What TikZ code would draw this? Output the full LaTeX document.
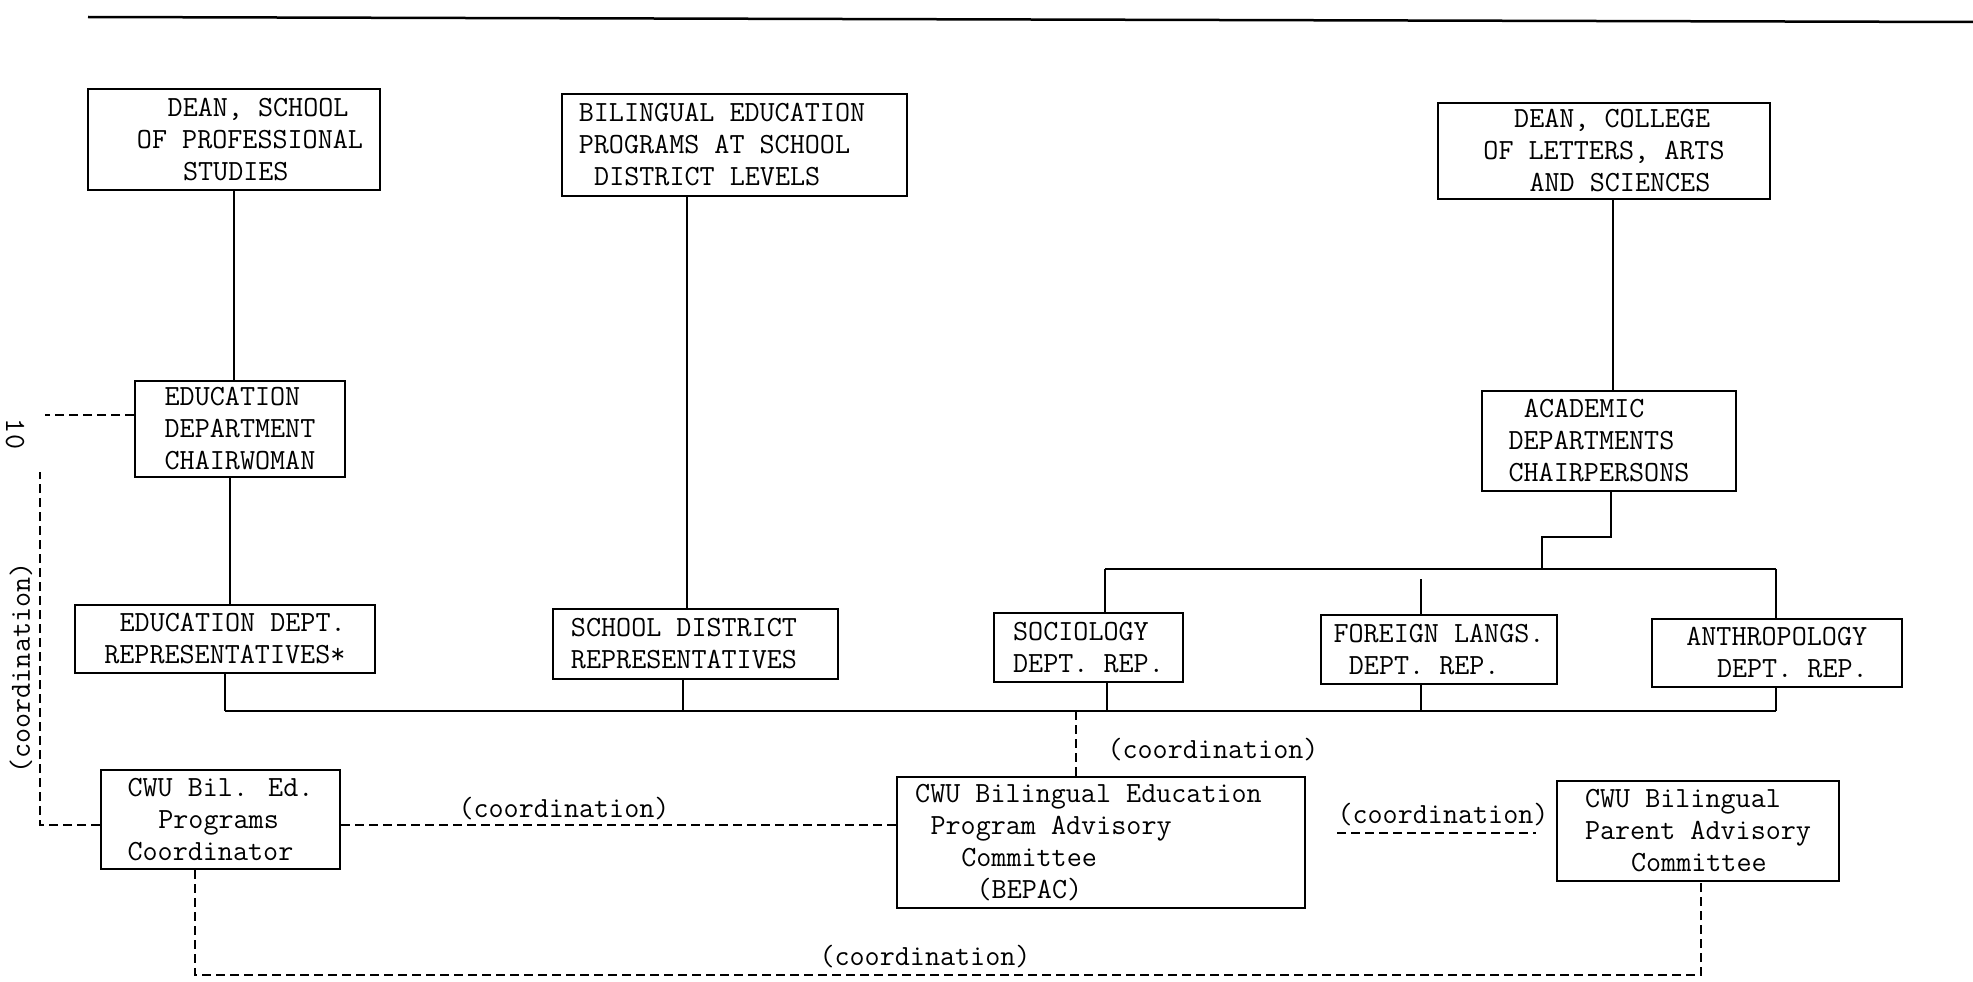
\documentclass[tikz,border=0pt]{standalone}
\usepackage{fontspec}
\newcommand\tw{\ttfamily\addfontfeatures{FakeBold=2.5}}
\usetikzlibrary{calc}
\newdimen\cwid \cwid=15.36pt
\newcommand\ind[1]{\hspace*{#1\cwid}}
\tikzset{
  box/.style={draw, line width=2pt, inner xsep=2pt, inner ysep=0pt, align=left,
    font=\fontsize{29.26}{32}\selectfont\tw},
  ln/.style={line width=2pt},
  dsh/.style={line width=2.2pt, dash pattern=on 9pt off 5pt},
  lbl/.style={font=\fontsize{29.26}{32}\selectfont\tw, inner sep=0pt},
}
\begin{document}
\begin{tikzpicture}[x=1pt,y=-1pt]
\useasboundingbox (0,0) rectangle (1973,982);
% top rule
\coordinate (r1) at (88,17);
\coordinate (r2) at (1973,22);
\draw[line width=2.5pt] (r1) -- (r2);

% boxes
\node[box, minimum width=292pt, minimum height=101pt] (deanS) at (234,139.5)
  {\hspace*{32pt}\ind{2}DEAN, SCHOOL\\\hspace*{32pt}OF PROFESSIONAL\\\hspace*{32pt}\ind{3}STUDIES};
\node[box, minimum width=345pt, minimum height=102pt] (bilprog) at (734.5,145)
  {BILINGUAL EDUCATION\hspace*{25pt}\\PROGRAMS AT SCHOOL\\\ind{1}DISTRICT LEVELS};
\node[box, minimum width=332pt, minimum height=96pt] (deanC) at (1604,151)
  {\ind{2}DEAN, COLLEGE\\OF LETTERS, ARTS\hspace*{34pt}\\\ind{3}AND SCIENCES};
\node[box, minimum width=210pt, minimum height=96pt] (chairW) at (240,429)
  {EDUCATION\\DEPARTMENT\\CHAIRWOMAN};
\node[box, minimum width=254pt, minimum height=100pt] (chairP) at (1609,441)
  {\ind{1}ACADEMIC\\DEPARTMENTS\\CHAIRPERSONS\hspace*{20pt}};
\node[box, minimum width=300pt, minimum height=68pt] (edreps) at (225,639)
  {\ind{1}EDUCATION DEPT.\\REPRESENTATIVES*};
\node[box, minimum width=285pt, minimum height=70pt] (sdreps) at (695.5,644)
  {SCHOOL DISTRICT\hspace*{23pt}\\REPRESENTATIVES};
\node[box, minimum width=189pt, minimum height=69pt] (soc) at (1088.5,647.5)
  {SOCIOLOGY\\DEPT. REP.};
\node[box, minimum width=236pt, minimum height=69pt] (flang) at (1439,649.5)
  {FOREIGN LANGS.\\\ind{1}DEPT. REP.};
\node[box, minimum width=250pt, minimum height=68pt] (anth) at (1777,653)
  {ANTHROPOLOGY\\\ind{2}DEPT. REP.};
\node[box, minimum width=239pt, minimum height=99pt] (coord) at (220.5,819.5)
  {CWU Bil. Ed.\\\ind{2}Programs\\Coordinator};
\node[box, minimum width=408pt, minimum height=131pt] (bepac) at (1101,842.5)
  {CWU Bilingual Education\hspace*{25pt}\\\ind{1}Program Advisory\\\ind{3}Committee\\\ind{4}(BEPAC)};
\node[box, minimum width=282pt, minimum height=100pt] (parent) at (1698,831)
  {CWU Bilingual\\Parent Advisory\hspace*{38pt}\\\ind{3}Committee};

% solid hierarchy lines
\draw[ln] (deanS.south) -- (deanS.south |- chairW.north);
\draw[ln] ([xshift=-10pt]chairW.south) -- ([xshift=-10pt]chairW.south |- edreps.north);
\draw[ln] ([xshift=-47.5pt]bilprog.south) -- ([xshift=-47.5pt]bilprog.south |- sdreps.north);
\draw[ln] ([xshift=9pt]deanC.south) -- ([xshift=9pt]deanC.south |- chairP.north);

% bracket under chairpersons
\coordinate (jog) at (0,537);
\coordinate (brkL) at (1105,569);
\coordinate (brkR) at (1776,569);
\coordinate (fgap) at (1421,579);
\draw[ln] ([xshift=2pt]chairP.south) -- ([xshift=2pt]chairP.south |- jog) -- (1542,537) -- (1542,569);
\draw[ln] (brkL) -- (brkR);
\draw[ln] (brkL) -- (brkL |- soc.north);
\draw[ln] (fgap) -- (fgap |- flang.north);
\draw[ln] (brkR) -- (brkR |- anth.north);

% bottom bus
\coordinate (bus) at (0,711);
\draw[ln] (edreps.south |- bus) -- ([xshift=-1pt]anth.south |- bus);
\draw[ln] (edreps.south) -- (edreps.south |- bus);
\draw[ln] ([xshift=-12.5pt]sdreps.south) -- ([xshift=-12.5pt]sdreps.south |- bus);
\draw[ln] ([xshift=18.5pt]soc.south) -- ([xshift=18.5pt]soc.south |- bus);
\draw[ln] ([xshift=-18pt]flang.south) -- ([xshift=-18pt]flang.south |- bus);
\draw[ln] ([xshift=-1pt]anth.south) -- ([xshift=-1pt]anth.south |- bus);

% coordination links (dashed)
\draw[dsh] ([xshift=-25pt]bepac.north |- bus) -- ([xshift=-25pt]bepac.north);
\node[lbl] (l2) at (1213,750) {(coordination)};

\draw[dsh] ([yshift=-5.5pt]coord.east) -- ([yshift=-5.5pt]coord.east -| bepac.west);
\node[lbl] (l1) at (564,809) {(coordination)};

\draw[dsh, shorten <=31pt, shorten >=20pt] ([yshift=9.5pt]bepac.east) -- ([yshift=9.5pt]bepac.east -| parent.west);
\node[lbl] (l3) at (1443,815) {(coordination)};

\coordinate (lb) at (0,975);
\draw[dsh] ([xshift=-25.5pt]coord.south) -- ([xshift=-25.5pt]coord.south |- lb)
  -- ([xshift=3pt]parent.south |- lb) -- ([xshift=3pt]parent.south);
\node[lbl] (l4) at (925,957) {(coordination)};

\coordinate (lw) at (45,415);
\draw[dsh] ([yshift=14pt]chairW.west) -- (lw);
\coordinate (ltop) at (40,472);
\draw[dsh] ([yshift=-5.5pt]coord.west) -| (ltop);
\node[lbl, rotate=90] (l5) at (21,668) {(coordination)};
\node[lbl, rotate=-90] (pg) at (15,434) {10};
\end{tikzpicture}
\end{document}
